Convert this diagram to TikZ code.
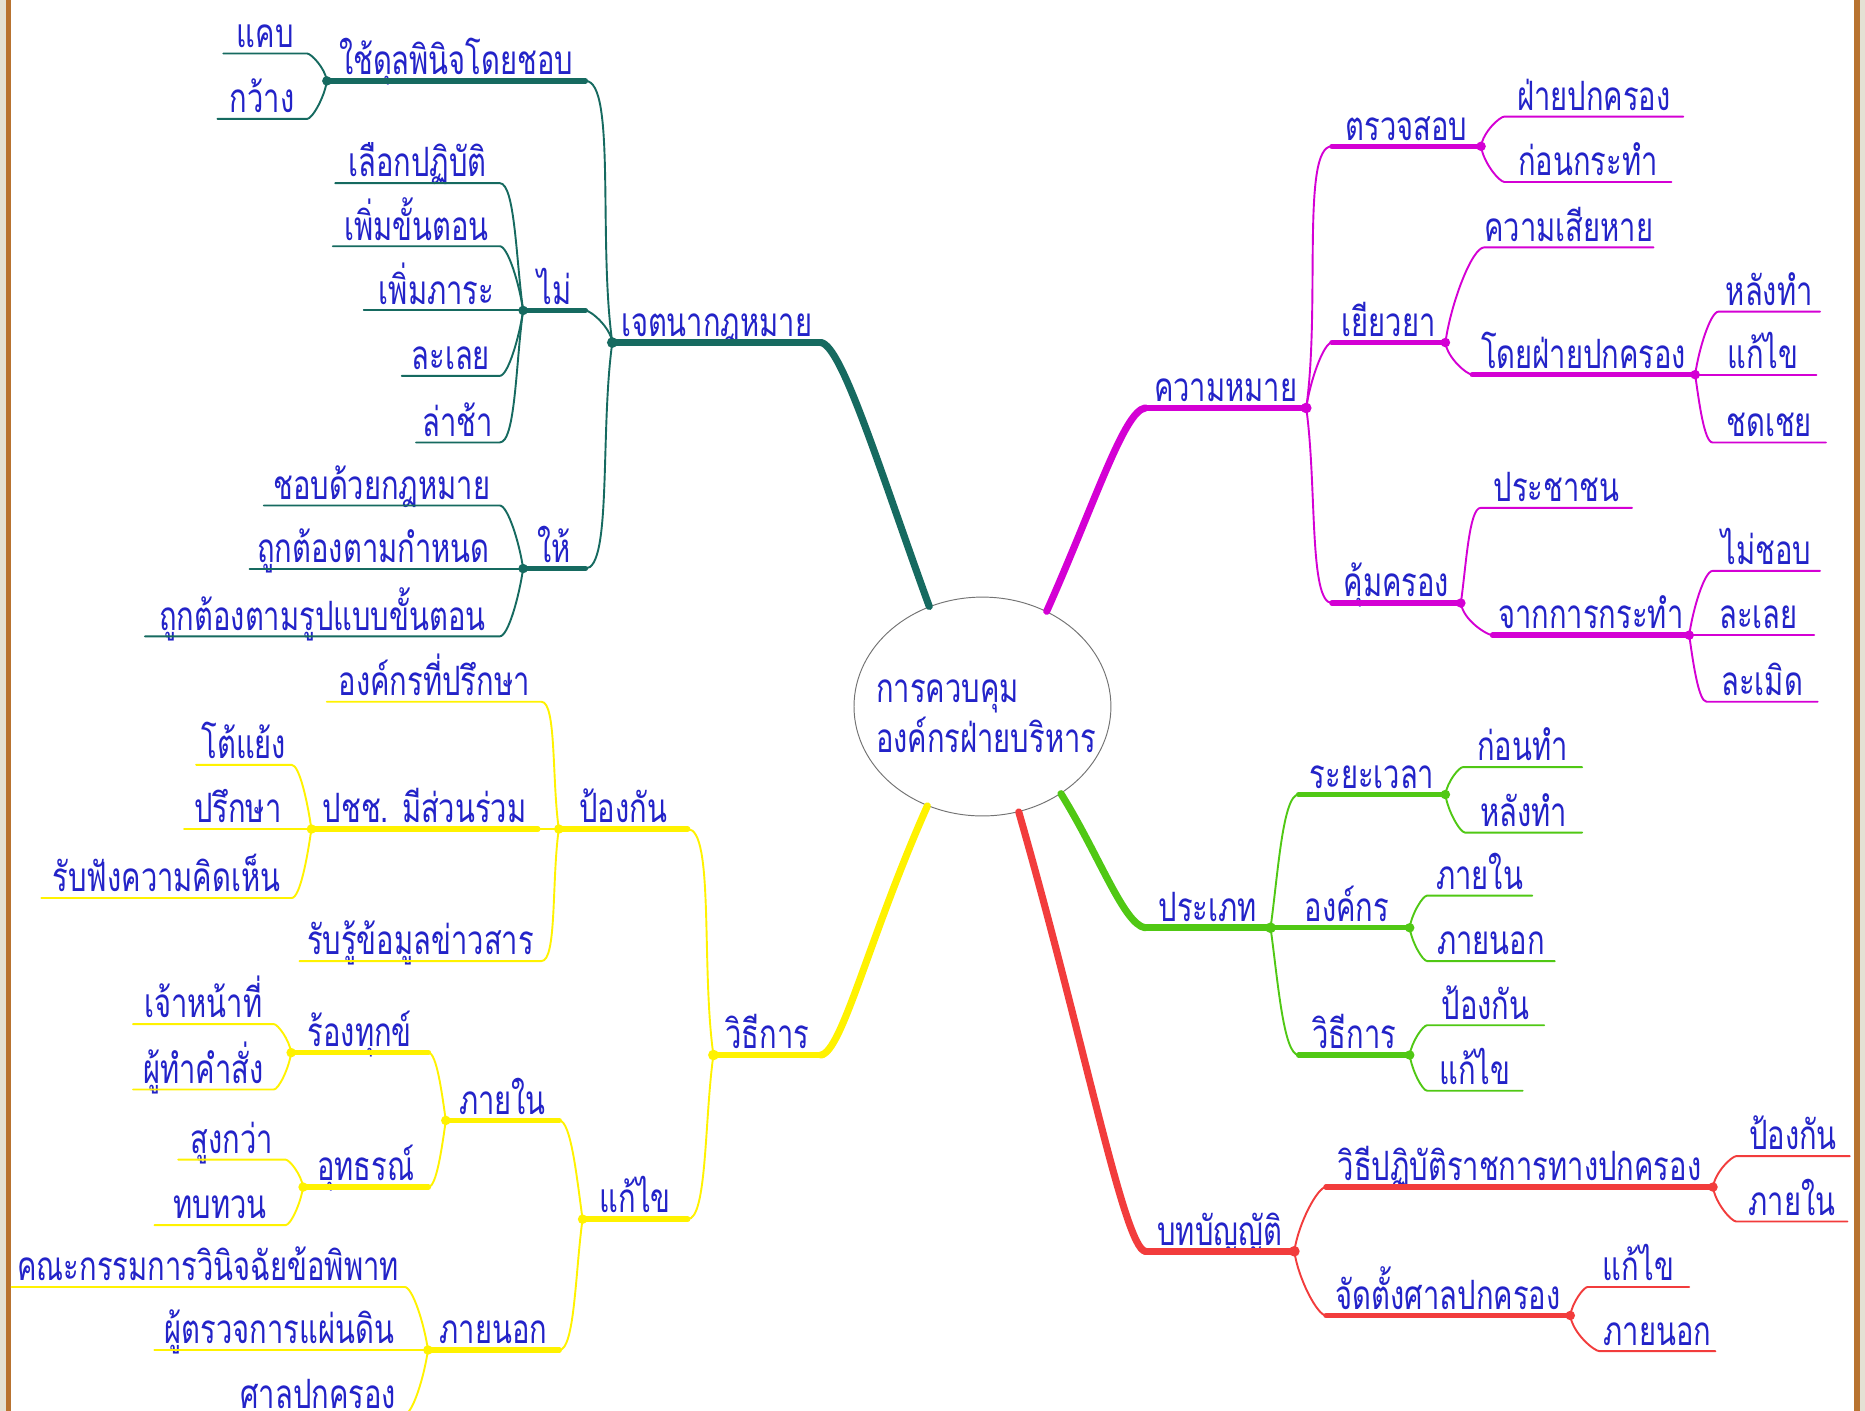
\documentclass[tikz,border=0pt]{standalone}
\usepackage{fontspec}
\usepackage{tikz}
\usetikzlibrary{shapes.geometric}
\newfontfamily\thai[Script=Thai,FakeStretch=0.72]{Loma}
\definecolor{txtblue}{RGB}{35,35,200}
\definecolor{tealc}{RGB}{22,106,96}
\definecolor{pinkc}{RGB}{212,0,212}
\definecolor{greenc}{RGB}{80,200,20}
\definecolor{redc}{RGB}{242,60,60}
\definecolor{yellowc}{RGB}{255,242,0}
\definecolor{framegray}{RGB}{228,225,212}
\definecolor{framebrown}{RGB}{184,115,48}

\begin{document}
\begin{tikzpicture}[x=1pt, y=1pt, line cap=round,
		text_style/.style={text=txtblue,font=\thai\fontsize{34}{42}\selectfont,inner xsep=0pt,inner ysep=5pt,text depth=0pt,anchor=south},
		root_style/.style={ellipse,draw=black!55,line width=0.8pt,fill=white,minimum width=216pt,minimum height=184pt},
		main_style/.style={draw=#1,line width=6pt},
		bar_style/.style={draw=#1,line width=4.5pt},
		edge_style/.style={draw=#1,line width=1.6pt},
		left_up/.style={out=98,in=0,in looseness=0.3},
		left_down/.style={out=262,in=0,in looseness=0.3},
		right_up/.style={out=82,in=180,in looseness=0.3},
		right_down/.style={out=278,in=180,in looseness=0.3}]

		\useasboundingbox (0,0) rectangle (1568,-1186);
		\clip (0,0) rectangle (1568,-1186);
		\fill[white] (0,0) rectangle (1568,-1186);
		\fill[framegray] (0,0) rectangle (5,-1186);
		\fill[framebrown] (5,0) rectangle (9.5,-1186);
		\fill[framebrown] (1559,0) rectangle (1563.5,-1186);
		\fill[framegray] (1563.5,0) rectangle (1568,-1186);

		\node[root_style] (root) at (826,-594) {};
		\node[text=txtblue,font=\thai\fontsize{34}{42}\selectfont,align=left,anchor=west] (roottext) at (733,-602) {การควบคุม\\องค์กรฝ่ายบริหาร};

		\node[text_style,minimum width=175pt] (intent) at (602.5,-288) {เจตนากฎหมาย};
		\node[text_style,minimum width=217pt] (discretion) at (383.5,-68) {ใช้ดุลพินิจโดยชอบ};
		\node[text_style,minimum width=70pt] (narrow) at (223,-45) {แคบ};
		\node[text_style,minimum width=75pt] (wide) at (220.5,-100) {กว้าง};
		\node[text_style,minimum width=52pt] (forbid) at (466,-261) {ไม่};
		\node[text_style,minimum width=138pt] (discrim) at (351,-154) {เลือกปฏิบัติ};
		\node[text_style,minimum width=140pt] (addstep) at (350,-207) {เพิ่มขั้นตอน};
		\node[text_style,minimum width=122pt] (addload) at (367,-261) {เพิ่มภาระ};
		\node[text_style,minimum width=82pt] (neglect) at (379,-316) {ละเลย};
		\node[text_style,minimum width=70pt] (delay) at (385,-372) {ล่าช้า};
		\node[text_style,minimum width=52pt] (require) at (466,-478) {ให้};
		\node[text_style,minimum width=198pt] (lawful) at (321,-425) {ชอบด้วยกฎหมาย};
		\node[text_style,minimum width=208pt] (ontime) at (314,-478) {ถูกต้องตามกำหนด};
		\node[text_style,minimum width=298pt] (format) at (271,-535) {ถูกต้องตามรูปแบบขั้นตอน};

		\node[text_style,minimum width=90pt] (method) at (645,-887) {วิธีการ};
		\node[text_style,minimum width=108pt] (prevent) at (524,-697) {ป้องกัน};
		\node[text_style,minimum width=88pt] (remedy) at (534,-1025) {แก้ไข};
		\node[text_style,minimum width=180pt] (advisory) at (365,-590) {องค์กรที่ปรึกษา};
		\node[text_style,minimum width=190pt] (particip) at (357,-697) {ปชช. มีส่วนร่วม};
		\node[text_style,minimum width=80pt] (argue) at (205,-643) {โต้แย้ง};
		\node[text_style,minimum width=90pt] (consult) at (200,-697) {ปรึกษา};
		\node[text_style,minimum width=210pt] (hearing) at (140,-755) {รับฟังความคิดเห็น};
		\node[text_style,minimum width=203pt] (inform) at (353.5,-808) {รับรู้ข้อมูลข่าวสาร};
		\node[text_style,minimum width=95pt] (internal) at (422.5,-942) {ภายใน};
		\node[text_style,minimum width=115pt] (complain) at (302.5,-885) {ร้องทุกข์};
		\node[text_style,minimum width=118pt] (officer) at (171,-861) {เจ้าหน้าที่};
		\node[text_style,minimum width=118pt] (issuer) at (171,-916) {ผู้ทำคำสั่ง};
		\node[text_style,minimum width=105pt] (appeal) at (307.5,-998) {อุทธรณ์};
		\node[text_style,minimum width=90pt] (higher) at (195,-975) {สูงกว่า};
		\node[text_style,minimum width=110pt] (review) at (185,-1030) {ทบทวน};
		\node[text_style,minimum width=110pt] (external) at (415,-1135) {ภายนอก};
		\node[text_style,minimum width=330pt] (committee) at (175,-1082) {คณะกรรมการวินิจฉัยข้อพิพาท};
		\node[text_style,minimum width=210pt] (ombuds) at (235,-1135) {ผู้ตรวจการแผ่นดิน};
		\node[text_style,minimum width=145pt] (admcourt) at (267.5,-1189) {ศาลปกครอง};

		\node[text_style,minimum width=135pt] (meaning) at (1030.5,-343) {ความหมาย};
		\node[text_style,minimum width=125pt] (inspect) at (1182.5,-123) {ตรวจสอบ};
		\node[text_style,minimum width=150pt] (adminside) at (1340,-98) {ฝ่ายปกครอง};
		\node[text_style,minimum width=140pt] (beforeact) at (1335,-153) {ก่อนกระทำ};
		\node[text_style,minimum width=95pt] (redress) at (1167.5,-288) {เยียวยา};
		\node[text_style,minimum width=142pt] (damage) at (1319,-208) {ความเสียหาย};
		\node[text_style,minimum width=187pt] (byadmin) at (1331.5,-315) {โดยฝ่ายปกครอง};
		\node[text_style,minimum width=85pt] (afterdo) at (1487.5,-262) {หลังทำ};
		\node[text_style,minimum width=90pt] (fix) at (1482,-315) {แก้ไข};
		\node[text_style,minimum width=95pt] (compensate) at (1487.5,-372) {ชดเชย};
		\node[text_style,minimum width=108pt] (protect) at (1174,-507) {คุ้มครอง};
		\node[text_style,minimum width=127pt] (people) at (1308.5,-427) {ประชาชน};
		\node[text_style,minimum width=165pt] (fromact) at (1337.5,-534) {จากการกระทำ};
		\node[text_style,minimum width=90pt] (unlawful) at (1485,-480) {ไม่ชอบ};
		\node[text_style,minimum width=93pt] (omit) at (1478.5,-534) {ละเลย};
		\node[text_style,minimum width=93pt] (tort) at (1481.5,-590) {ละเมิด};

		\node[text_style,minimum width=105pt] (kind) at (1015.5,-780) {ประเภท};
		\node[text_style,minimum width=123pt] (period) at (1153.5,-668) {ระยะเวลา};
		\node[text_style,minimum width=100pt] (beforedo) at (1280,-645) {ก่อนทำ};
		\node[text_style,minimum width=98pt] (afterdo2) at (1281,-700) {หลังทำ};
		\node[text_style,minimum width=105pt] (organ) at (1132.5,-780) {องค์กร};
		\node[text_style,minimum width=88pt] (inside) at (1244,-753) {ภายใน};
		\node[text_style,minimum width=107pt] (outside) at (1253.5,-808) {ภายนอก};
		\node[text_style,minimum width=93pt] (way) at (1138.5,-887) {วิธีการ};
		\node[text_style,minimum width=98pt] (prevent2) at (1249,-862) {ป้องกัน};
		\node[text_style,minimum width=80pt] (fix2) at (1240,-917) {แก้ไข};

		\node[text_style,minimum width=125pt] (provision) at (1025.5,-1052) {บทบัญญัติ};
		\node[text_style,minimum width=325pt] (procedure) at (1277.5,-998) {วิธีปฏิบัติราชการทางปกครอง};
		\node[text_style,minimum width=95pt] (prevent3) at (1507.5,-972) {ป้องกัน};
		\node[text_style,minimum width=93pt] (inside3) at (1506.5,-1027) {ภายใน};
		\node[text_style,minimum width=205pt] (court) at (1217.5,-1106) {จัดตั้งศาลปกครอง};
		\node[text_style,minimum width=85pt] (fix3) at (1377.5,-1082) {แก้ไข};
		\node[text_style,minimum width=97pt] (outside3) at (1393.5,-1136) {ภายนอก};

		\draw[main_style=tealc] (root.118) .. controls +(110:120) and +(-8:18) .. (intent.south east);
		\draw[bar_style=tealc,line width=5.5pt] (intent.south east) -- (intent.south west);
		\draw[edge_style=tealc] (intent.south west) to[left_up] (discretion.south east);
		\draw[bar_style=tealc] (discretion.south east) -- (discretion.south west);
		\draw[edge_style=tealc] (discretion.south west) to[left_up] (narrow.south east) -- (narrow.south west);
		\draw[edge_style=tealc] (discretion.south west) to[left_down] (wide.south east) -- (wide.south west);
		\draw[edge_style=tealc] (intent.south west) to[left_up] (forbid.south east);
		\draw[bar_style=tealc] (forbid.south east) -- (forbid.south west);
		\draw[edge_style=tealc] (forbid.south west) to[left_up] (discrim.south east) -- (discrim.south west);
		\draw[edge_style=tealc] (forbid.south west) to[left_up] (addstep.south east) -- (addstep.south west);
		\draw[edge_style=tealc] (forbid.south west) -- (addload.south east) -- (addload.south west);
		\draw[edge_style=tealc] (forbid.south west) to[left_down] (neglect.south east) -- (neglect.south west);
		\draw[edge_style=tealc] (forbid.south west) to[left_down] (delay.south east) -- (delay.south west);
		\draw[edge_style=tealc] (intent.south west) to[left_down] (require.south east);
		\draw[bar_style=tealc] (require.south east) -- (require.south west);
		\draw[edge_style=tealc] (require.south west) to[left_up] (lawful.south east) -- (lawful.south west);
		\draw[edge_style=tealc] (require.south west) -- (ontime.south east) -- (ontime.south west);
		\draw[edge_style=tealc] (require.south west) to[left_down] (format.south east) -- (format.south west);
		\fill[tealc] (intent.south west) circle (4.5) (discretion.south west) circle (4) (forbid.south west) circle (4) (require.south west) circle (4);

		\draw[main_style=yellowc] (root.-119) .. controls +(-114:120) and +(8:18) .. (method.south east);
		\draw[bar_style=yellowc,line width=5.5pt] (method.south east) -- (method.south west);
		\draw[edge_style=yellowc] (method.south west) to[left_up] (prevent.south east);
		\draw[bar_style=yellowc] (prevent.south east) -- (prevent.south west);
		\draw[edge_style=yellowc] (prevent.south west) to[left_up] (advisory.south east) -- (advisory.south west);
		\draw[edge_style=yellowc] (prevent.south west) -- (particip.south east);
		\draw[bar_style=yellowc] (particip.south east) -- (particip.south west);
		\draw[edge_style=yellowc] (particip.south west) to[left_up] (argue.south east) -- (argue.south west);
		\draw[edge_style=yellowc] (particip.south west) -- (consult.south east) -- (consult.south west);
		\draw[edge_style=yellowc] (particip.south west) to[left_down] (hearing.south east) -- (hearing.south west);
		\draw[edge_style=yellowc] (prevent.south west) to[left_down] (inform.south east) -- (inform.south west);
		\draw[edge_style=yellowc] (method.south west) to[left_down] (remedy.south east);
		\draw[bar_style=yellowc] (remedy.south east) -- (remedy.south west);
		\draw[edge_style=yellowc] (remedy.south west) to[left_up] (internal.south east);
		\draw[bar_style=yellowc] (internal.south east) -- (internal.south west);
		\draw[edge_style=yellowc] (internal.south west) to[left_up] (complain.south east);
		\draw[bar_style=yellowc] (complain.south east) -- (complain.south west);
		\draw[edge_style=yellowc] (complain.south west) to[left_up] (officer.south east) -- (officer.south west);
		\draw[edge_style=yellowc] (complain.south west) to[left_down] (issuer.south east) -- (issuer.south west);
		\draw[edge_style=yellowc] (internal.south west) to[left_down] (appeal.south east);
		\draw[bar_style=yellowc] (appeal.south east) -- (appeal.south west);
		\draw[edge_style=yellowc] (appeal.south west) to[left_up] (higher.south east) -- (higher.south west);
		\draw[edge_style=yellowc] (appeal.south west) to[left_down] (review.south east) -- (review.south west);
		\draw[edge_style=yellowc] (remedy.south west) to[left_down] (external.south east);
		\draw[bar_style=yellowc] (external.south east) -- (external.south west);
		\draw[edge_style=yellowc] (external.south west) to[left_up] (committee.south east) -- (committee.south west);
		\draw[edge_style=yellowc] (external.south west) -- (ombuds.south east) -- (ombuds.south west);
		\draw[edge_style=yellowc] (external.south west) to[left_down] (admcourt.south east) -- (admcourt.south west);
		\fill[yellowc] (method.south west) circle (4.5) (prevent.south west) circle (4) (particip.south west) circle (4) (remedy.south west) circle (4) (internal.south west) circle (4) (complain.south west) circle (4) (appeal.south west) circle (4) (external.south west) circle (4);

		\draw[main_style=pinkc] (root.56) .. controls +(66:100) and +(188:18) .. (meaning.south west);
		\draw[bar_style=pinkc,line width=5.5pt] (meaning.south west) -- (meaning.south east);
		\draw[edge_style=pinkc] (meaning.south east) to[right_up] (inspect.south west);
		\draw[bar_style=pinkc] (inspect.south west) -- (inspect.south east);
		\draw[edge_style=pinkc] (inspect.south east) to[right_up] (adminside.south west) -- (adminside.south east);
		\draw[edge_style=pinkc] (inspect.south east) to[right_down] (beforeact.south west) -- (beforeact.south east);
		\draw[edge_style=pinkc] (meaning.south east) to[right_up] (redress.south west);
		\draw[bar_style=pinkc] (redress.south west) -- (redress.south east);
		\draw[edge_style=pinkc] (redress.south east) to[right_up] (damage.south west) -- (damage.south east);
		\draw[edge_style=pinkc] (redress.south east) to[right_down] (byadmin.south west);
		\draw[bar_style=pinkc] (byadmin.south west) -- (byadmin.south east);
		\draw[edge_style=pinkc] (byadmin.south east) to[right_up] (afterdo.south west) -- (afterdo.south east);
		\draw[edge_style=pinkc] (byadmin.south east) -- (fix.south west) -- (fix.south east);
		\draw[edge_style=pinkc] (byadmin.south east) to[right_down] (compensate.south west) -- (compensate.south east);
		\draw[edge_style=pinkc] (meaning.south east) to[right_down] (protect.south west);
		\draw[bar_style=pinkc] (protect.south west) -- (protect.south east);
		\draw[edge_style=pinkc] (protect.south east) to[right_up] (people.south west) -- (people.south east);
		\draw[edge_style=pinkc] (protect.south east) to[right_down] (fromact.south west);
		\draw[bar_style=pinkc] (fromact.south west) -- (fromact.south east);
		\draw[edge_style=pinkc] (fromact.south east) to[right_up] (unlawful.south west) -- (unlawful.south east);
		\draw[edge_style=pinkc] (fromact.south east) -- (omit.south west) -- (omit.south east);
		\draw[edge_style=pinkc] (fromact.south east) to[right_down] (tort.south west) -- (tort.south east);
		\fill[pinkc] (meaning.south east) circle (4.5) (inspect.south east) circle (4) (redress.south east) circle (4) (byadmin.south east) circle (4) (protect.south east) circle (4) (fromact.south east) circle (4);

		\draw[main_style=greenc] (root.-48) .. controls +(-58:60) and +(172:18) .. (kind.south west);
		\draw[bar_style=greenc,line width=5.5pt] (kind.south west) -- (kind.south east);
		\draw[edge_style=greenc] (kind.south east) to[right_up] (period.south west);
		\draw[bar_style=greenc] (period.south west) -- (period.south east);
		\draw[edge_style=greenc] (period.south east) to[right_up] (beforedo.south west) -- (beforedo.south east);
		\draw[edge_style=greenc] (period.south east) to[right_down] (afterdo2.south west) -- (afterdo2.south east);
		\draw[bar_style=greenc] (kind.south east) -- (organ.south west) -- (organ.south east);
		\draw[edge_style=greenc] (organ.south east) to[right_up] (inside.south west) -- (inside.south east);
		\draw[edge_style=greenc] (organ.south east) to[right_down] (outside.south west) -- (outside.south east);
		\draw[edge_style=greenc] (kind.south east) to[right_down] (way.south west);
		\draw[bar_style=greenc] (way.south west) -- (way.south east);
		\draw[edge_style=greenc] (way.south east) to[right_up] (prevent2.south west) -- (prevent2.south east);
		\draw[edge_style=greenc] (way.south east) to[right_down] (fix2.south west) -- (fix2.south east);
		\fill[greenc] (kind.south east) circle (4.5) (period.south east) circle (4) (organ.south east) circle (4) (way.south east) circle (4);

		\draw[main_style=redc] (root.-71) .. controls +(-74:200) and +(170:18) .. (provision.south west);
		\draw[bar_style=redc,line width=5.5pt] (provision.south west) -- (provision.south east);
		\draw[edge_style=redc] (provision.south east) to[right_up] (procedure.south west);
		\draw[bar_style=redc] (procedure.south west) -- (procedure.south east);
		\draw[edge_style=redc] (procedure.south east) to[right_up] (prevent3.south west) -- (prevent3.south east);
		\draw[edge_style=redc] (procedure.south east) to[right_down] (inside3.south west) -- (inside3.south east);
		\draw[edge_style=redc] (provision.south east) to[right_down] (court.south west);
		\draw[bar_style=redc] (court.south west) -- (court.south east);
		\draw[edge_style=redc] (court.south east) to[right_up] (fix3.south west) -- (fix3.south east);
		\draw[edge_style=redc] (court.south east) to[right_down] (outside3.south west) -- (outside3.south east);
		\fill[redc] (provision.south east) circle (4.5) (procedure.south east) circle (4) (court.south east) circle (4);

\end{tikzpicture}
\end{document}
